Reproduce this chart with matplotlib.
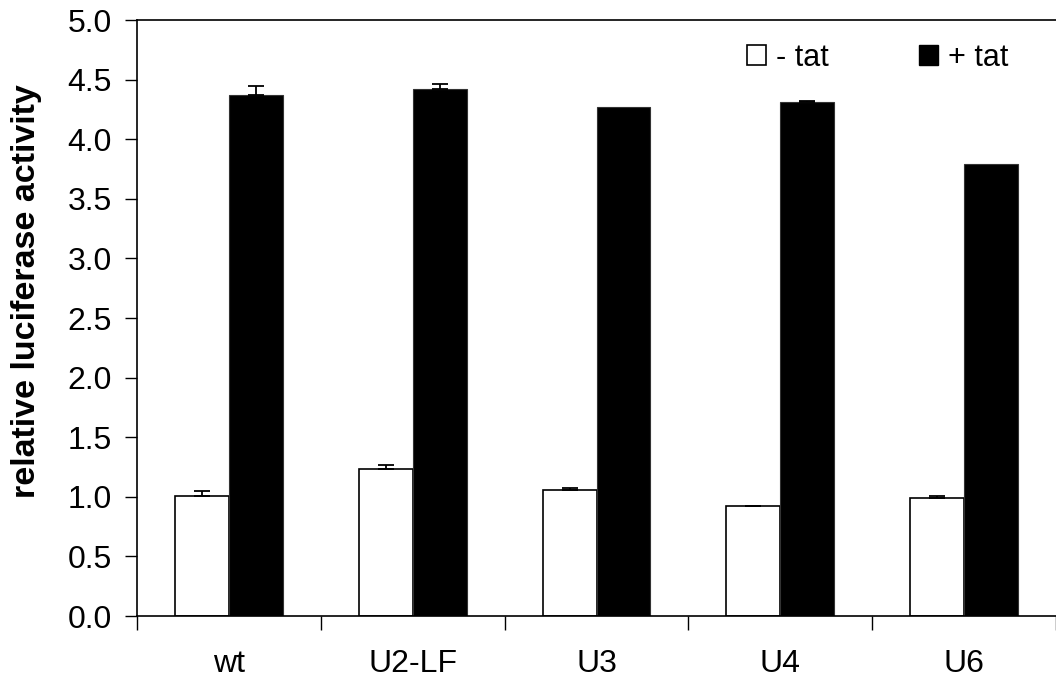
import matplotlib
matplotlib.use("Agg")
import matplotlib.pyplot as plt
import numpy as np
from matplotlib.patches import Patch

categories = ["wt", "U2-LF", "U3", "U4", "U6"]
minus_tat = [1.01, 1.23, 1.06, 0.92, 0.99]
minus_err = [0.035, 0.034, 0.017, 0.004, 0.017]
plus_tat = [4.37, 4.42, 4.27, 4.31, 3.79]
plus_err = [0.08, 0.047, 0.0, 0.014, 0.0]
series_labels = ["- tat", "+ tat"]
yticks = [0.0, 0.5, 1.0, 1.5, 2.0, 2.5, 3.0, 3.5, 4.0, 4.5, 5.0]

plt.rcParams['font.family'] = ['Liberation Sans', 'DejaVu Sans']

fig = plt.figure(figsize=(10.56, 6.84), dpi=100)
ax = fig.add_axes([137/1056, 68/684, 919/1056, 596/684])

x = np.arange(len(categories))
w = 0.293
err_kw = dict(fmt='none', ecolor='black', elinewidth=1.3, capsize=5.5, capthick=1.3, zorder=3)
ax.bar(x - w/2, minus_tat, w, color='white', edgecolor='black', linewidth=1.2, label=series_labels[0])
ax.bar(x + w/2, plus_tat, w, color='black', edgecolor='#333333', linewidth=0.8, label=series_labels[1])

for xs, vals, errs in [(x - w/2, minus_tat, minus_err), (x + w/2, plus_tat, plus_err)]:
    for xi, v, e in zip(xs, vals, errs):
        if e > 0:
            ax.errorbar([xi], [v], yerr=[[0], [e]], **err_kw)

ax.set_xlim(-0.5, len(categories) - 0.5)
ax.set_ylim(0, 5.0)
ax.set_yticks(yticks)
ax.set_yticklabels([f"{v:.1f}" for v in yticks], fontsize=23)
ax.set_xticks(np.arange(len(categories) + 1) - 0.5)
ax.set_xticklabels([])
ax.set_xticks(x, minor=True)
ax.set_xticklabels(categories, minor=True, fontsize=23)
ax.tick_params(axis='x', which='minor', length=0, pad=24)
ax.tick_params(axis='x', which='major', length=10, width=1, direction='out')
ax.tick_params(axis='y', length=9, width=1, direction='out', pad=9)
ax.spines['right'].set_visible(False)
for s in ['left', 'top', 'bottom']:
    ax.spines[s].set_linewidth(1.2)

ax.set_ylabel("relative luciferase activity", fontsize=24.5, fontweight='bold')
ax.yaxis.set_label_coords(-0.103, 0.545)

handles = [Patch(facecolor='white', edgecolor='black', linewidth=1.2),
           Patch(facecolor='black', edgecolor='black')]
ax.legend(handles, series_labels, loc='center', bbox_to_anchor=(0.806, 0.936),
          ncol=2, frameon=False, fontsize=22, handlelength=0.62, handleheight=0.62,
          handletextpad=0.33, columnspacing=2.95)

fig.savefig("out.png", dpi=100)
